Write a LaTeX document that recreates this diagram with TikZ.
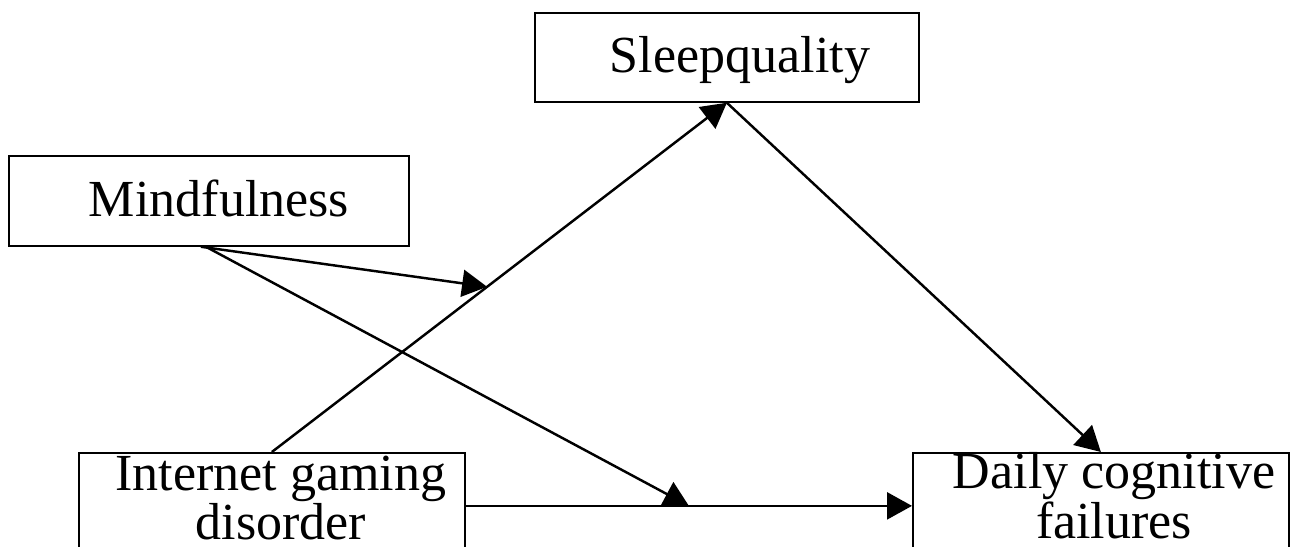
\documentclass[tikz,border=0pt]{standalone}
\usepackage{fontspec}
\setmainfont{Liberation Serif}
\usetikzlibrary{arrows.meta}
\begin{document}
\begin{tikzpicture}[>={Triangle[length=0.5cm, width=0.54cm]}, line width=1.4pt,
  box/.style={draw, line width=1pt, anchor=north west, inner sep=0pt},
  lbl/.style={anchor=base, align=center, inner sep=0pt, font=\fontsize{29.6}{26.7}\selectfont}]
\useasboundingbox (0,0) rectangle (25.92,10.94);
\clip (0,0) rectangle (25.92,10.94);
\node (sleep) [box, minimum width=7.68cm, minimum height=1.78cm] at (10.68,10.70) {};
\node (mind) [box, minimum width=8.0cm, minimum height=1.80cm] at (0.16,7.84) {};
\node (igd) [box, minimum width=7.72cm, minimum height=2.12cm] at (1.56,1.90) {};
\node (dcf) [box, minimum width=7.52cm, minimum height=2.12cm] at (18.24,1.90) {};
\node (sleeptxt) [lbl] at (14.80,9.48) {Sleepquality};
\node (mindtxt) [lbl] at (4.38,6.60) {Mindfulness};
\node (igdtxt) [lbl] at (5.62,0.14) {Internet gaming\\disorder};
\node (dcftxt) [lbl] at (22.28,0.18) {Daily cognitive\\failures};
\draw[->] (igd.north) -- coordinate[pos=0.473] (onsleep) (sleep.south);
\draw[->] (sleep.south) -- (dcf.north);
\draw[->] (igd.east) -- coordinate[pos=0.5] (ondcf) (dcf.west);
\draw[->] ([xshift=-0.16cm]mind.south) -- (onsleep);
\draw[->] ([xshift=-0.06cm]mind.south) -- (ondcf);
\end{tikzpicture}
\end{document}
